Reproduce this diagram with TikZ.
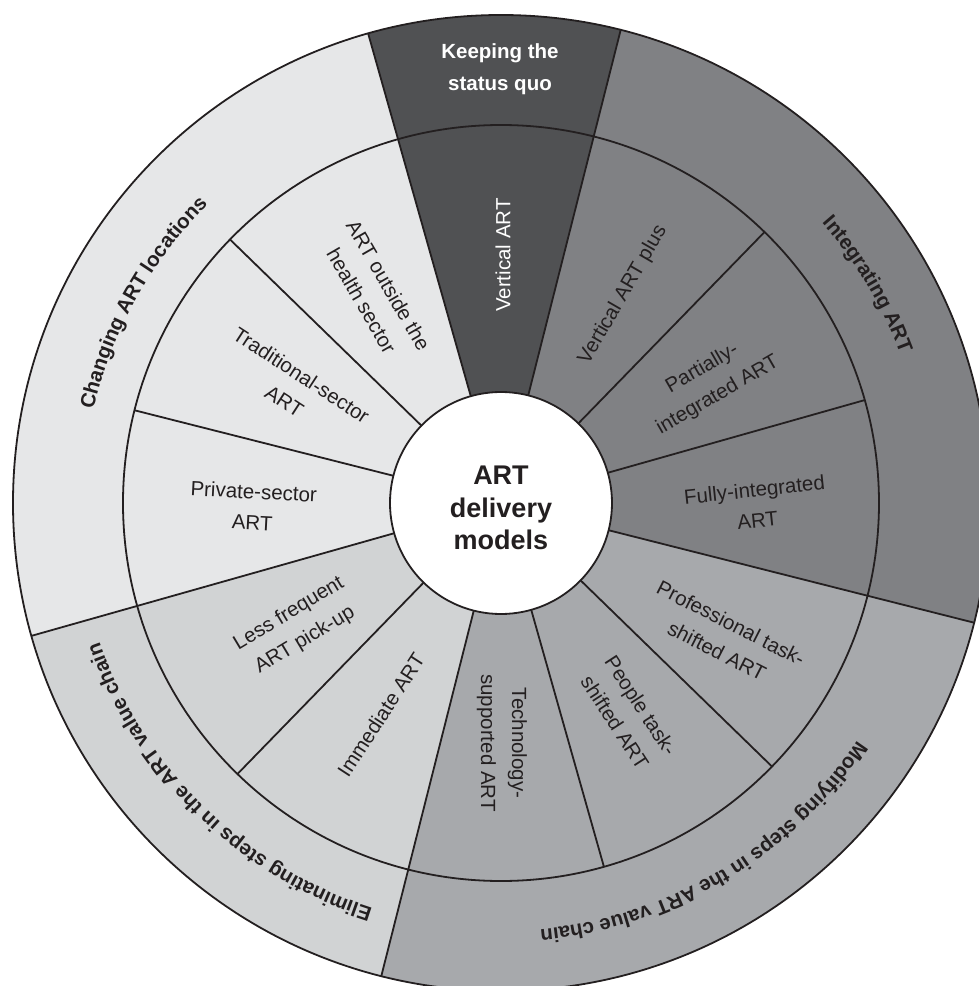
\documentclass[tikz,border=0pt]{standalone}
\usepackage{fontspec}
\setmainfont{Liberation Sans}
\usetikzlibrary{decorations.text}
\definecolor{cKeep}{HTML}{505153}
\definecolor{cInt}{HTML}{808184}
\definecolor{cMod}{HTML}{A7A9AC}
\definecolor{cElim}{HTML}{D1D3D4}
\definecolor{cChg}{HTML}{E6E7E8}
\definecolor{ink}{HTML}{231F20}
\newcommand{\innerfnt}{\fontsize{20.5}{31}\selectfont}
\newcommand{\outerfnt}{\fontsize{20.5}{32}\selectfont\bfseries}
\newcommand{\centerfnt}{\fontsize{27}{32.5}\selectfont\bfseries}
\newcommand{\wedgefill}[3]{\fill[#1] (0,0) -- (#2:488) arc[start angle=#2, end angle=#3, radius=488] -- cycle;}
\begin{document}
\begin{tikzpicture}[x=1pt,y=1pt,
  lbl/.style={font=\innerfnt, text=ink, align=center, inner sep=0pt},
  sep/.style={draw=ink, line width=1.8pt},
  arclbl/.style={decorate, decoration={text along path, text align=center, text color=ink}}]
\useasboundingbox (-501,-483) rectangle (478,503);
\clip (-501,-483) rectangle (478,503);
% category wedges
\wedgefill{cKeep}{75.8}{105.8}
\wedgefill{cChg}{105.8}{195.8}
\wedgefill{cElim}{195.8}{255.8}
\wedgefill{cMod}{255.8}{345.8}
\wedgefill{cInt}{-14.2}{75.8}
% rings
\draw[sep] (0,0) circle[radius=488];
\draw[sep] (0,0) circle[radius=378];
% radial separators
\foreach \a in {75.8,105.8,195.8,255.8,345.8}
  \draw[sep] (\a:111) -- (\a:488);
\foreach \a in {135.8,165.8,225.8,285.8,315.8,15.8,45.8}
  \draw[sep] (\a:111) -- (\a:378);
% centre
\node[circle, draw=ink, line width=1.8pt, fill=white, minimum size=222pt, inner sep=0pt] (hub) at (0,0) {};
\node[font=\centerfnt, text=ink, align=center, inner sep=0pt] (title) at (0,-5) {ART\\delivery\\models};
% outer labels
\node[font=\outerfnt, text=white, align=center, inner sep=0pt] (keep) at (-1,434) {Keeping the\\status quo};
\path[arclbl, decoration={text={|\outerfnt|Changing ART locations}}]
  (195.8:418) arc[start angle=195.8, end angle=105.8, radius=418];
\path[arclbl, decoration={text={|\outerfnt|Integrating ART}}]
  (75.8:426) arc[start angle=75.8, end angle=-14.2, radius=426];
\path[arclbl, decoration={text={|\outerfnt|Modifying steps in the ART value chain}}]
  (345.8:428) arc[start angle=345.8, end angle=255.8, radius=428];
\path[arclbl, decoration={text={|\outerfnt|Eliminating steps in the ART value chain}}]
  (255.8:425) arc[start angle=255.8, end angle=195.8, radius=425];
% inner labels
\node[lbl, text=white, rotate=90] (vart) at (2,248) {Vertical ART};
\node[lbl, rotate=60] (vartp) at (122,208) {Vertical ART plus};
\node[lbl, rotate=30] (part) at (209,121) {Partially-\\integrated ART};
\node[lbl, rotate=6] (full) at (255,-2) {Fully-integrated\\ART};
\node[lbl, rotate=-27] (prof) at (223,-134) {Professional task-\\shifted ART};
\node[lbl, rotate=-57] (people) at (127,-211) {People task-\\shifted ART};
\node[lbl, rotate=-90] (tech) at (1,-240) {Technology-\\supported ART};
\node[lbl, rotate=57] (imm) at (-120,-212) {Immediate ART};
\node[lbl, rotate=31] (less) at (-204,-124) {Less frequent\\ART pick-up};
\node[lbl, rotate=-3] (priv) at (-248,-4) {Private-sector\\ART};
\node[lbl, rotate=-33] (trad) at (-208,115) {Traditional-sector\\ART};
\node[lbl, rotate=-60] (outside) at (-126,210) {ART outside the\\health sector};
\end{tikzpicture}
\end{document}
